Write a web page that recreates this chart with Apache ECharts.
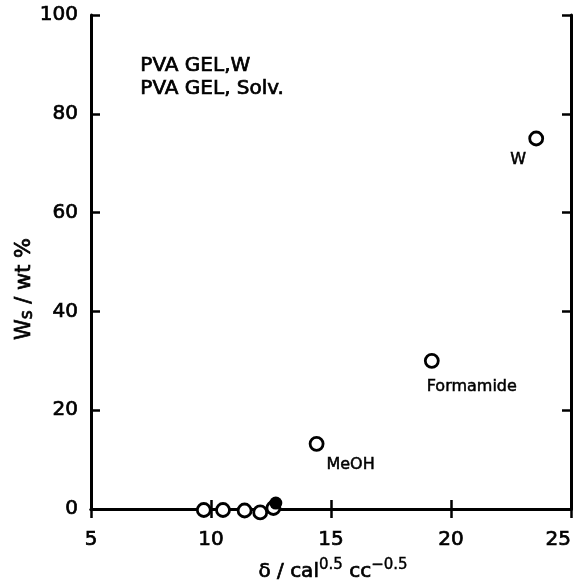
<!DOCTYPE html>
<html>
<head>
<meta charset="utf-8">
<script src="https://cdn.jsdelivr.net/npm/echarts@6/dist/echarts.min.js"></script>
<style>
  html, body { margin: 0; padding: 0; background: #fff; }
  #main { width: 576px; height: 586px; }
</style>
</head>
<body>
<div id="main"></div>
<script>
// 溶解度パラメータ vs 溶媒含量
const openX = [9.7, 10.5, 11.4, 12.05, 12.6, 14.4, 19.2, 23.55]
const openY = [-0.2, -0.2, -0.3, -0.7, 0.2, 13.2, 30, 75]
const openNames = ['', '', '', '', '', 'MeOH', 'Formamide', 'W']
const filledX = [12.7]
const filledY = [1.2]
const xTicks = [5, 10, 15, 20, 25]
const yTicks = [0, 20, 40, 60, 80, 100]
const legendLines = ['PVA GEL,W', 'PVA GEL, Solv.']

const font = 'DejaVu Sans'
// slightly heavier than regular, lighter than bold
const ink = { color: '#000', fontFamily: font, textBorderColor: '#000', textBorderWidth: 0.7 }
const labelOffsets = {
  'MeOH': [34, 21],
  'Formamide': [40, 26],
  'W': [-18, 21]
}

const chart = echarts.init(document.getElementById('main'))

const axisLine = { show: true, lineStyle: { color: '#000', width: 3 } }
const axisTick = { show: true, inside: true, length: 9, lineStyle: { color: '#000', width: 2.5 } }

let openData = openX.map((x, i) => {
  let p = { value: [x, openY[i]] }
  if (openNames[i]) {
    p.label = Object.assign({
      show: true,
      formatter: openNames[i],
      position: 'inside',
      offset: labelOffsets[openNames[i]],
      fontSize: 16
    }, ink, { textBorderWidth: 0.5 })
  }
  return p
})

let option = {
  animation: false,
  backgroundColor: '#fff',
  grid: { left: 91, right: 5, top: 15, bottom: 77 },
  xAxis: [
    {
      type: 'value', min: xTicks[0], max: xTicks[xTicks.length - 1], interval: 5,
      axisLine: axisLine, axisTick: axisTick, splitLine: { show: false },
      axisLabel: Object.assign({ fontSize: 20, margin: 21, alignMaxLabel: 'right' }, ink)
    },
    {
      type: 'value', position: 'top', min: 5, max: 25, interval: 5,
      axisLine: axisLine, axisTick: axisTick, splitLine: { show: false },
      axisLabel: { show: false }
    }
  ],
  yAxis: [
    {
      type: 'value', min: yTicks[0], max: yTicks[yTicks.length - 1], interval: 20,
      axisLine: axisLine, axisTick: axisTick, splitLine: { show: false },
      axisLabel: Object.assign({ fontSize: 20, margin: 13 }, ink)
    },
    {
      type: 'value', position: 'right', min: 0, max: 100, interval: 20,
      axisLine: axisLine, axisTick: axisTick, splitLine: { show: false },
      axisLabel: { show: false }
    }
  ],
  graphic: [
    {
      type: 'text', left: 140, top: 54,
      style: {
        text: legendLines.join('\n'), fill: '#000', font: '20px "DejaVu Sans"', lineHeight: 23,
        stroke: '#000', lineWidth: 0.7
      }
    },
    {
      type: 'text', x: 25, y: 289, rotation: Math.PI / 2,
      style: {
        text: '{a|W}{s|s}{a| / wt %}',
        align: 'center', verticalAlign: 'middle',
        rich: {
          a: { fill: '#000', fontFamily: font, fontSize: 21, stroke: '#000', lineWidth: 0.7 },
          s: { fill: '#000', fontFamily: font, fontSize: 17, stroke: '#000', lineWidth: 0.7, padding: [6, 0, 0, 0] }
        }
      }
    },
    {
      type: 'text', x: 333, y: 572,
      style: {
        text: '{a|δ / cal}{u|0.5}{a| cc}{u|−0.5}',
        align: 'center', verticalAlign: 'middle',
        rich: {
          a: { fill: '#000', fontFamily: font, fontSize: 20, stroke: '#000', lineWidth: 0.7 },
          u: { fill: '#000', fontFamily: font, fontSize: 15, stroke: '#000', lineWidth: 0.4, padding: [0, 0, 14, 0] }
        }
      }
    }
  ],
  series: [
    {
      type: 'scatter',
      data: openData,
      symbol: 'circle',
      symbolSize: 13,
      clip: false,
      itemStyle: { color: '#fff', borderColor: '#000', borderWidth: 2.8, opacity: 1 }
    },
    {
      type: 'scatter',
      data: filledX.map((x, i) => [x, filledY[i]]),
      symbol: 'circle',
      symbolSize: 13,
      clip: false,
      itemStyle: { color: '#000', opacity: 1 }
    }
  ]
}

option && chart.setOption(option)
</script>
</body>
</html>
